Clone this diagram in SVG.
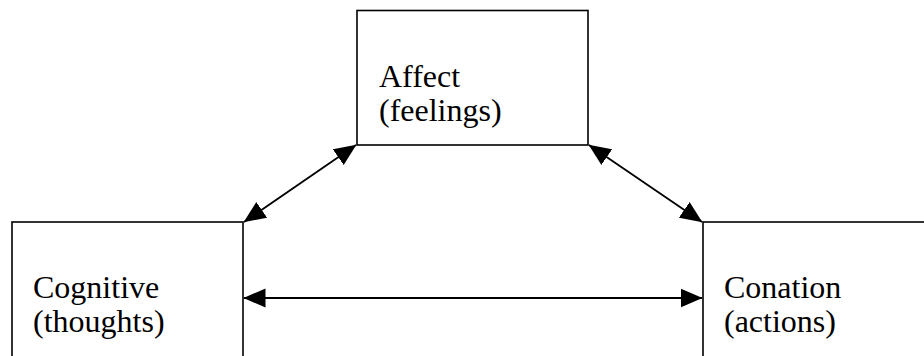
<svg xmlns="http://www.w3.org/2000/svg" width="924" height="356" viewBox="0 0 924 356">
<style>
.box{fill:#fff;stroke:#000;stroke-width:1.6}
.lbl{font-family:"Liberation Serif","Times New Roman",serif;font-size:32px;fill:#000}
.con{stroke:#000;stroke-width:1.8;fill:none}
</style>
<defs>
<marker id="ah" markerUnits="userSpaceOnUse" markerWidth="22" markerHeight="20" viewBox="0 0 22 20" refX="21.5" refY="10" orient="auto-start-reverse">
<path d="M0,0.5 L22,10 L0,19.5 Z" fill="#000"/>
</marker>
</defs>
<rect width="924" height="356" fill="#fff"/>
<g id="affect">
<rect class="box" x="357" y="10.5" width="231" height="134.5"/>
<text class="lbl" x="379" y="87">Affect</text>
<text class="lbl" x="379" y="121">(feelings)</text>
</g>
<g id="cognitive">
<rect class="box" x="12" y="222" width="231" height="140"/>
<text class="lbl" x="33" y="298">Cognitive</text>
<text class="lbl" x="33" y="332">(thoughts)</text>
</g>
<g id="conation">
<rect class="box" x="703" y="222" width="240" height="140"/>
<text class="lbl" x="724" y="298">Conation</text>
<text class="lbl" x="724" y="332">(actions)</text>
</g>
<g id="connectors">
<line class="con" x1="244" y1="222" x2="356" y2="145" marker-start="url(#ah)" marker-end="url(#ah)"/>
<line class="con" x1="589" y1="145" x2="702" y2="222" marker-start="url(#ah)" marker-end="url(#ah)"/>
<line class="con" x1="244" y1="298" x2="702" y2="298" marker-start="url(#ah)" marker-end="url(#ah)"/>
</g>
</svg>
